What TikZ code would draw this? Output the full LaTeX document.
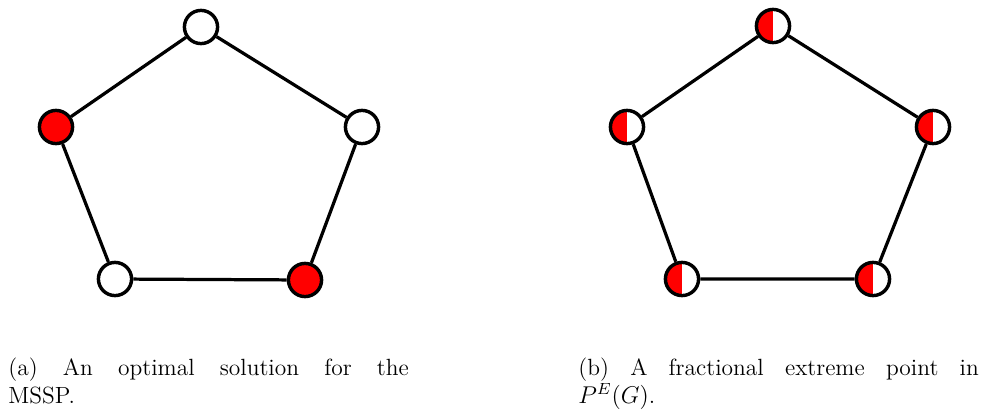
\documentclass[tikz,border=0pt]{standalone}
\usepackage{xcolor}
\definecolor{markred}{HTML}{FF0000}

\begin{document}
\begin{tikzpicture}[
  x=0.01738cm, y=-0.01738cm,
  vtx/.style={circle, draw=black, line width=1.7pt, fill=#1,
              minimum size=16.4pt, inner sep=0pt},
  vtx/.default=white,
  halfvtx/.style={vtx, path picture={
      \fill[markred] (path picture bounding box.south west)
        rectangle (path picture bounding box.north);}},
  edge/.style={line width=1.6pt},
  capt/.style={anchor=north west, inner sep=0pt, text width=198pt,
               align=justify, font=\fontsize{11.6}{14}\selectfont},
]
\useasboundingbox (0,0) rectangle (987,412);

% --- (a) optimal solution ---
\node[vtx]          (a1) at (201,27)  {};
\node[vtx=markred]  (a2) at (56,127)  {};
\node[vtx]          (a3) at (115,279) {};
\node[vtx=markred]  (a4) at (305,280) {};
\node[vtx]          (a5) at (362,127) {};
\draw[edge] (a1) -- (a2) -- (a3) -- (a4) -- (a5) -- (a1);

% --- (b) fractional extreme point ---
\node[halfvtx] (b1) at (773,26)  {};
\node[halfvtx] (b2) at (627,127) {};
\node[halfvtx] (b3) at (682,279) {};
\node[halfvtx] (b4) at (873,279) {};
\node[halfvtx] (b5) at (933,127) {};
\draw[edge] (b1) -- (b2) -- (b3) -- (b4) -- (b5) -- (b1);

% --- captions ---
\node[capt] (capa) at (8,357)
  {(a) An optimal solution for the\linebreak MSSP.};
\node[capt] (capb) at (578,357)
  {(b) A fractional extreme point in\linebreak $P^E(G)$.};

\end{tikzpicture}
\end{document}
